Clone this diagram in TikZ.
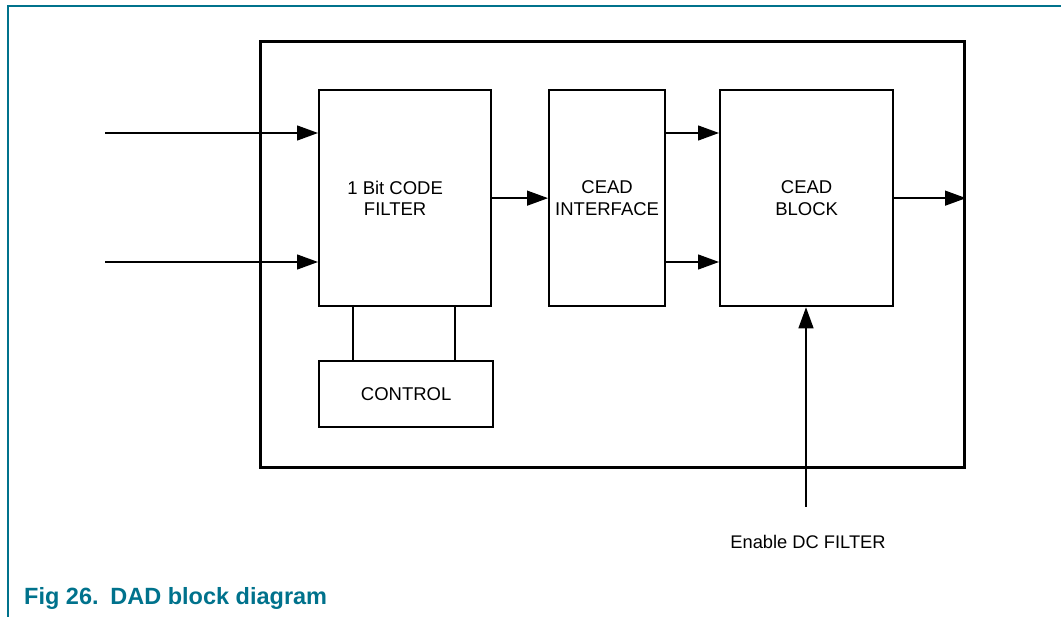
\documentclass[tikz,border=0pt]{standalone}
\usepackage{fontspec}
\setmainfont{Liberation Sans}
\usetikzlibrary{arrows.meta}
\definecolor{nxpteal}{RGB}{0,114,140}
\begin{document}
\begin{tikzpicture}[x=1pt,y=-1pt,
  blk/.style={draw,line width=2.3pt,inner sep=0pt},
  lbl/.style={font=\fontsize{18.5}{21.7}\selectfont,align=center,inner sep=0pt},
  conn/.style={line width=1.3pt,-{Triangle[length=21pt,width=15pt]}},
  plain/.style={line width=1.3pt}]
\useasboundingbox (0,0) rectangle (1061,617);
\draw[nxpteal,line width=2pt] (1061,6) -- (8,6) -- (8,617);
\node[draw,line width=3pt,minimum width=704pt,minimum height=426pt,anchor=north west] (outer) at (259,40) {};
\node[blk,minimum width=172pt,minimum height=216pt,anchor=north west] (filt) at (318,89) {};
\node[lbl] (filtt) at ([xshift=-10pt]filt.center) {1 Bit CODE\\FILTER};
\node[blk,minimum width=116pt,minimum height=216pt,anchor=north west] (ifc) at (548,89) {};
\node[lbl] (ifct) at (ifc.center) {CEAD\\INTERFACE};
\node[blk,minimum width=173pt,minimum height=216pt,anchor=north west] (cead) at (719,89) {};
\node[lbl] (ceadt) at (cead.center) {CEAD\\BLOCK};
\node[blk,lbl,minimum width=174pt,minimum height=66pt,anchor=north west] (ctrl) at (318,360) {CONTROL};
\coordinate (in1) at (105,133);
\coordinate (in2) at (105,262);
\draw[conn] (in1) -- (in1 -| filt.west);
\draw[conn] (in2) -- (in2 -| filt.west);
\draw[conn] (filt.east) -- (ifc.west);
\draw[conn] (ifc.east |- in1) -- (cead.west |- in1);
\draw[conn] (ifc.east |- in2) -- (cead.west |- in2);
\draw[conn] (cead.east) -- (cead.east -| outer.east);
\draw[plain] (353,305) -- (353,360);
\draw[plain] (455,305) -- (455,360);
\node[font=\fontsize{18.3}{21}\selectfont] (en) at (808,542) {Enable DC FILTER};
\coordinate (enb) at (806,507);
\draw[conn] (enb) -- (enb |- cead.south);
\node[anchor=base west,text=nxpteal,font=\fontsize{23.5}{27}\selectfont\bfseries,inner sep=0pt] (cap) at (24,604) {Fig 26.\hspace{0.5em}DAD block diagram};
\end{tikzpicture}
\end{document}
